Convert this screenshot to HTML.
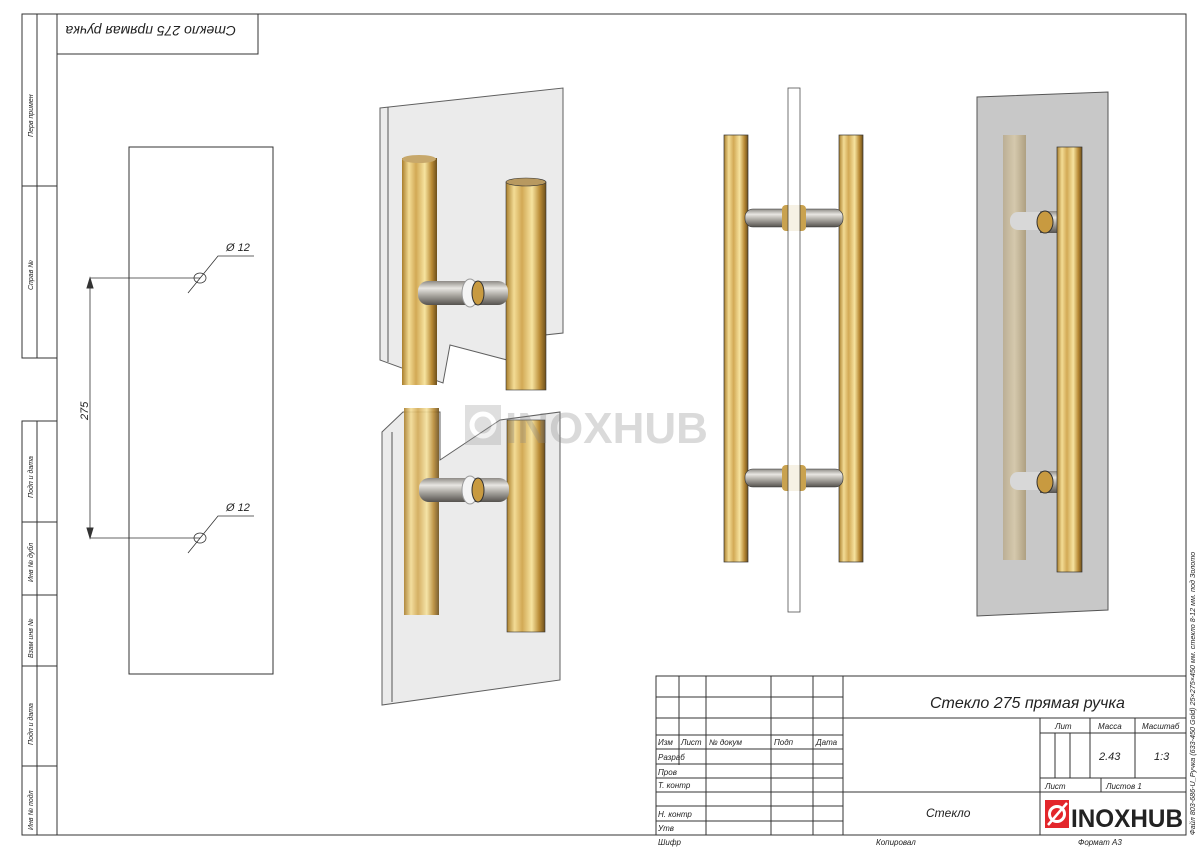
<!DOCTYPE html>
<html><head><meta charset="utf-8"><style>
html,body{margin:0;padding:0;background:#fff;width:1200px;height:848px;overflow:hidden}
svg{display:block}
text{font-family:"Liberation Sans","DejaVu Sans",sans-serif;font-style:italic;fill:#222}
text.n{font-style:normal;font-weight:bold}
</style></head><body>
<svg width="1200" height="848" viewBox="0 0 1200 848" xmlns="http://www.w3.org/2000/svg">
<defs>
<linearGradient id="gold" x1="0" x2="1" y1="0" y2="0">
<stop offset="0" stop-color="#a97e2c"/><stop offset="0.2" stop-color="#f3dc95"/><stop offset="0.4" stop-color="#d2a955"/><stop offset="0.65" stop-color="#f6e39f"/><stop offset="0.85" stop-color="#b88a35"/><stop offset="1" stop-color="#6d4f1c"/>
</linearGradient>
<linearGradient id="steel" x1="0" x2="0" y1="0" y2="1">
<stop offset="0" stop-color="#8d8a85"/><stop offset="0.3" stop-color="#e8e6e2"/><stop offset="0.6" stop-color="#a9a6a0"/><stop offset="1" stop-color="#55524e"/>
</linearGradient>
<linearGradient id="ghost" x1="0" x2="1">
<stop offset="0" stop-color="#b8a888"/><stop offset="0.5" stop-color="#d8c9a6"/><stop offset="1" stop-color="#a89670"/>
</linearGradient>
</defs>
<g fill="none" stroke="#333" stroke-width="1">
<rect x="57" y="14" width="1129" height="821"/>
<rect x="22" y="14" width="35" height="344"/>
<line x1="37" y1="14" x2="37" y2="358"/>
<line x1="22" y1="186" x2="57" y2="186"/>
<rect x="22" y="421" width="35" height="414"/>
<line x1="37" y1="421" x2="37" y2="835"/>
<line x1="22" y1="522" x2="57" y2="522"/>
<line x1="22" y1="595" x2="57" y2="595"/>
<line x1="22" y1="666" x2="57" y2="666"/>
<line x1="22" y1="766" x2="57" y2="766"/>
<rect x="57" y="14" width="201" height="40"/>
<rect x="129" y="147" width="144" height="527"/>
<g stroke-width="0.8">
<line x1="90" y1="278" x2="200" y2="278"/>
<line x1="90" y1="538" x2="200" y2="538"/>
<line x1="90" y1="278" x2="90" y2="538"/>
<ellipse cx="200" cy="278" rx="6" ry="5"/>
<ellipse cx="200" cy="538" rx="6" ry="5"/>
<polyline points="188,293 218,256 254,256"/>
<polyline points="188,553 218,516 254,516"/>
</g>
<polygon points="90,278 87,288 93,288" fill="#333"/>
<polygon points="90,538 87,528 93,528" fill="#333"/>
</g>
<text x="226" y="251" font-size="11">Ø 12</text>
<text x="226" y="511" font-size="11">Ø 12</text>
<text x="0" y="0" font-size="11" transform="translate(88,420) rotate(-90)">275</text>
<text x="0" y="0" font-size="14" transform="translate(236,26) rotate(180)">Стекло 275 прямая ручка</text>
<g font-size="7">
<text transform="translate(33,137) rotate(-90)">Перв примен</text>
<text transform="translate(33,290) rotate(-90)">Справ №</text>
<text transform="translate(33,498) rotate(-90)">Подп и дата</text>
<text transform="translate(33,582) rotate(-90)">Инв № дубл</text>
<text transform="translate(33,658) rotate(-90)">Взам инв №</text>
<text transform="translate(33,745) rotate(-90)">Подп и дата</text>
<text transform="translate(33,830) rotate(-90)">Инв № подл</text>
</g>

<!-- left 3D: top pane -->
<polygon points="380,108 563,88 563,333 545,335 545,385 507,360 450,345 443,383 380,360" fill="#e8e8e8" stroke="#444" stroke-width="1" opacity="0.85"/>
<line x1="388" y1="107" x2="388" y2="362" stroke="#555"/>
<rect x="402" y="158" width="35" height="227" fill="url(#gold)"/>
<ellipse cx="419" cy="159" rx="17" ry="4" fill="#c7a86b"/>
<rect x="506" y="182" width="40" height="208" fill="url(#gold)" stroke="#333" stroke-width="0.6"/>
<ellipse cx="526" cy="182" rx="20" ry="4" fill="#b89960" stroke="#333" stroke-width="0.6"/>
<rect x="418" y="281" width="90" height="24" rx="10" fill="url(#steel)"/>
<ellipse cx="470" cy="293" rx="8" ry="14" fill="#f4f4f4" stroke="#999"/>
<ellipse cx="478" cy="293" rx="6" ry="12" fill="#c89a40" stroke="#333"/>
<!-- bottom pane -->
<polygon points="382,432 403,412 440,412 440,460 500,420 560,412 560,680 382,705" fill="#e8e8e8" stroke="#444" stroke-width="1" opacity="0.85"/>
<line x1="392" y1="432" x2="392" y2="702" stroke="#555"/>
<rect x="404" y="408" width="35" height="207" fill="url(#gold)" opacity="0.9"/>
<rect x="507" y="420" width="38" height="212" fill="url(#gold)" stroke="#333" stroke-width="0.6"/>
<rect x="419" y="478" width="90" height="24" rx="10" fill="url(#steel)"/>
<ellipse cx="470" cy="490" rx="8" ry="14" fill="#f4f4f4" stroke="#999"/>
<ellipse cx="478" cy="490" rx="6" ry="12" fill="#c89a40" stroke="#333"/>

<!-- watermark -->
<g opacity="0.3">
<rect x="465" y="405" width="36" height="40" fill="#999"/>
<circle cx="483" cy="425" r="11" fill="none" stroke="#fff" stroke-width="5"/>
<text class="n" x="505" y="443" font-size="44" style="fill:#888">INOXHUB</text>
</g>

<!-- middle view -->
<rect x="724" y="135" width="24" height="427" fill="url(#gold)" stroke="#333" stroke-width="0.7"/>
<rect x="839" y="135" width="24" height="427" fill="url(#gold)" stroke="#333" stroke-width="0.7"/>
<rect x="745" y="209" width="98" height="18" rx="8" fill="url(#steel)" stroke="#333" stroke-width="0.6"/>
<rect x="745" y="469" width="98" height="18" rx="8" fill="url(#steel)" stroke="#333" stroke-width="0.6"/>
<rect x="782" y="205" width="24" height="26" rx="4" fill="#c9a24f"/>
<rect x="782" y="465" width="24" height="26" rx="4" fill="#c9a24f"/>
<rect x="788" y="88" width="12" height="524" fill="#fff" stroke="#333" stroke-width="0.8" opacity="0.85"/>

<!-- right view -->
<polygon points="977,97 1108,92 1108,610 977,616" fill="#c8c8c8" stroke="#555" stroke-width="1"/>
<rect x="1003" y="135" width="23" height="425" fill="url(#ghost)" opacity="0.8"/>
<rect x="1010" y="212" width="48" height="18" rx="8" fill="#d8d8d8"/>
<rect x="1010" y="472" width="48" height="18" rx="8" fill="#d8d8d8"/>
<rect x="1040" y="211" width="20" height="22" fill="url(#steel)"/>
<rect x="1040" y="471" width="20" height="22" fill="url(#steel)"/>
<ellipse cx="1045" cy="222" rx="8" ry="11" fill="#c89a40" stroke="#333"/>
<ellipse cx="1045" cy="482" rx="8" ry="11" fill="#c89a40" stroke="#333"/>
<rect x="1057" y="147" width="25" height="425" fill="url(#gold)" stroke="#333" stroke-width="0.7"/>

<!-- title block -->
<g fill="none" stroke="#333" stroke-width="1">
<rect x="656" y="676" width="530" height="159"/>
<line x1="843" y1="676" x2="843" y2="835"/>
<line x1="679" y1="676" x2="679" y2="765"/>
<line x1="706" y1="676" x2="706" y2="835"/>
<line x1="771" y1="676" x2="771" y2="835"/>
<line x1="813" y1="676" x2="813" y2="835"/>
<line x1="656" y1="697" x2="843" y2="697"/>
<line x1="656" y1="718" x2="1186" y2="718"/>
<line x1="656" y1="735" x2="843" y2="735"/>
<line x1="656" y1="749" x2="843" y2="749"/>
<line x1="656" y1="764" x2="843" y2="764"/>
<line x1="656" y1="778" x2="843" y2="778"/>
<line x1="656" y1="792" x2="1186" y2="792"/>
<line x1="656" y1="806" x2="843" y2="806"/>
<line x1="656" y1="821" x2="843" y2="821"/>
<line x1="1040" y1="718" x2="1040" y2="835"/>
<line x1="1040" y1="733" x2="1186" y2="733"/>
<line x1="1040" y1="778" x2="1186" y2="778"/>
<line x1="1090" y1="718" x2="1090" y2="778"/>
<line x1="1135" y1="718" x2="1135" y2="778"/>
<line x1="1055" y1="733" x2="1055" y2="778"/>
<line x1="1070" y1="733" x2="1070" y2="778"/>
<line x1="1101" y1="778" x2="1101" y2="792"/>
</g>
<g font-size="8">
<text x="658" y="745">Изм</text><text x="681" y="745">Лист</text><text x="709" y="745">№ докум</text><text x="774" y="745">Подп</text><text x="816" y="745">Дата</text>
<text x="658" y="760">Разраб</text><text x="658" y="775">Пров</text><text x="658" y="788">Т. контр</text>
<text x="658" y="817">Н. контр</text><text x="658" y="831">Утв</text>
<text x="1055" y="729">Лит</text><text x="1098" y="729">Масса</text><text x="1142" y="729">Масштаб</text>
<text x="1045" y="789">Лист</text><text x="1106" y="789">Листов 1</text>
<text x="658" y="845">Шифр</text><text x="876" y="845">Копировал</text><text x="1078" y="845">Формат А3</text>
</g>
<text x="1099" y="760" font-size="11">2.43</text>
<text x="1154" y="760" font-size="11">1:3</text>
<text x="930" y="708" font-size="16">Стекло 275 прямая ручка</text>
<text x="926" y="817" font-size="12">Стекло</text>
<!-- logo -->
<rect x="1045" y="800" width="24" height="28" fill="#e3262b"/>
<circle cx="1057" cy="814" r="7.5" fill="none" stroke="#fff" stroke-width="3"/>
<line x1="1048" y1="825" x2="1067" y2="803" stroke="#fff" stroke-width="2.5"/>
<text class="n" x="1071" y="827" font-size="25" textLength="112" lengthAdjust="spacingAndGlyphs">INOXHUB</text>
<text transform="translate(1195,835) rotate(-90)" font-size="7.2">Файл 803-686-U_Ручка (633-450 Gold) 25×275×450 мм. стекло 8-12 мм. под Золото</text>
</svg>
</body></html>
